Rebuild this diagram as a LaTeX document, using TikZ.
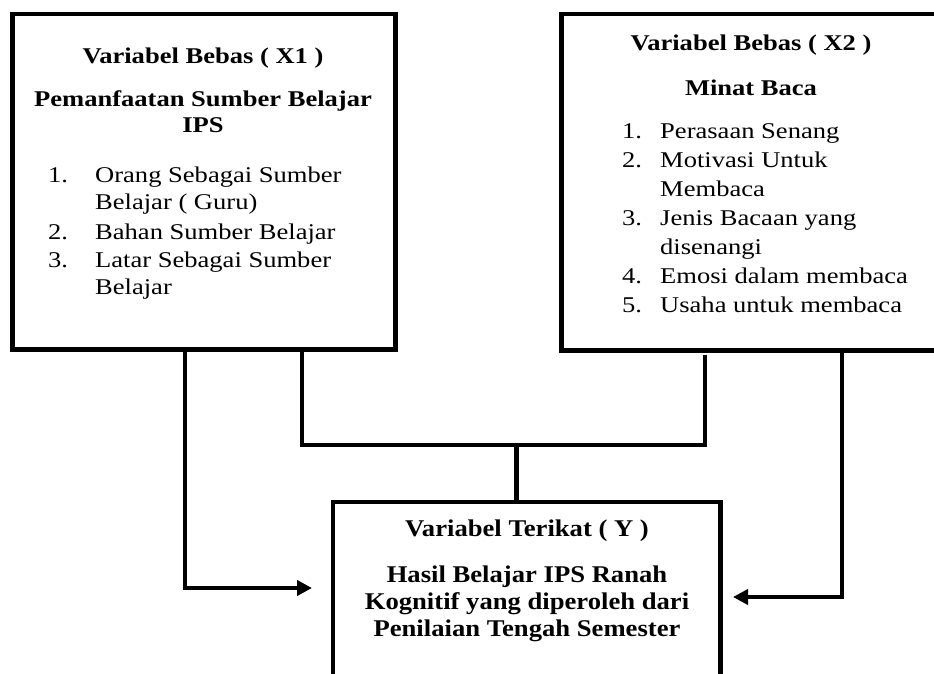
\documentclass[tikz,border=0pt]{standalone}
\usepackage{fontspec}
\setmainfont{Liberation Serif}
\newfontfamily\topfont[FakeStretch=1.18]{Liberation Serif}
\newfontfamily\botfont[FakeStretch=1.11]{Liberation Serif}
\usetikzlibrary{arrows.meta}
\begin{document}
\begin{tikzpicture}[x=1pt,y=-1pt,
  box/.style={draw=black, line width=4.8pt, rectangle, inner sep=0pt, outer sep=0pt},
  conn/.style={draw=black, line width=4.5pt},
  arr/.style={conn, -{Triangle[length=15pt,width=15pt]}},
  tt/.style={font=\topfont\fontsize{22.5}{27}\selectfont, inner sep=0pt, anchor=base},
  tl/.style={tt, anchor=base west},
  bt/.style={font=\botfont\fontsize{24}{27}\selectfont, inner sep=0pt, anchor=base}
]
\clip (0,0) rectangle (934,673);
\fill[white] (0,0) rectangle (934,673);

% boxes
\node[box, minimum width=383pt, minimum height=335.5pt] (lb) at (204,181.75) {};
\node[box, minimum width=388.5pt, minimum height=336.5pt] (rb) at (755.75,182.25) {};
\node[box, minimum width=387.5pt, minimum height=198pt] (bb) at (526.75,601) {};

% left box text
\node[tt] (lt1) at (203,63) {\bfseries Variabel Bebas ( X1 )};
\node[tt] (lt2) at (203,106) {\bfseries Pemanfaatan Sumber Belajar};
\node[tt] (lt3) at (203,132) {\bfseries IPS};
\node[tl] (ln1) at (48,182) {1.};
\node[tl] (li1a) at (95,182) {Orang Sebagai Sumber};
\node[tl] (li1b) at (95,209) {Belajar ( Guru)};
\node[tl] (ln2) at (48,239) {2.};
\node[tl] (li2) at (95,239) {Bahan Sumber Belajar};
\node[tl] (ln3) at (48,267) {3.};
\node[tl] (li3a) at (95,267) {Latar Sebagai Sumber};
\node[tl] (li3b) at (95,294) {Belajar};

% right box text
\node[tt] (rt1) at (751,50) {\bfseries Variabel Bebas ( X2 )};
\node[tt] (rt2) at (751,95) {\bfseries Minat Baca};
\node[tl] (rn1) at (622,138) {1.};
\node[tl] (ri1) at (660,138) {Perasaan Senang};
\node[tl] (rn2) at (622,167) {2.};
\node[tl] (ri2a) at (660,167) {Motivasi Untuk};
\node[tl] (ri2b) at (660,196) {Membaca};
\node[tl] (rn3) at (622,225) {3.};
\node[tl] (ri3a) at (660,225) {Jenis Bacaan yang};
\node[tl] (ri3b) at (660,254) {disenangi};
\node[tl] (rn4) at (622,283) {4.};
\node[tl] (ri4) at (660,283) {Emosi dalam membaca};
\node[tl] (rn5) at (622,312) {5.};
\node[tl] (ri5) at (660,312) {Usaha untuk membaca};

% bottom box text
\node[bt] (bt1) at (527,536) {\bfseries Variabel Terikat ( Y )};
\node[bt] (bt2) at (527,582) {\bfseries Hasil Belajar IPS Ranah};
\node[bt] (bt3) at (527,609) {\bfseries Kognitif yang diperoleh dari};
\node[bt] (bt4) at (527,636) {\bfseries Penilaian Tengah Semester};

% connector coordinates
\coordinate (cl) at (185,588);
\coordinate (tipl) at (312,588);
\coordinate (bl) at (302,445);
\coordinate (br) at (705,445);
\coordinate (bm) at (516.5,445);
\coordinate (cr) at (842,597);
\coordinate (tipr) at (733,597);

% connectors
\draw[arr] (lb.south -| cl) -- (cl) -- (tipl);
\draw[conn, shorten >=4pt] (lb.south -| bl) -- (bl) -- (br) -- (rb.south -| br);
\draw[conn] (bm) -- (bb.north -| bm);
\draw[arr] (rb.south -| cr) -- (cr) -- (tipr);
\end{tikzpicture}
\end{document}
